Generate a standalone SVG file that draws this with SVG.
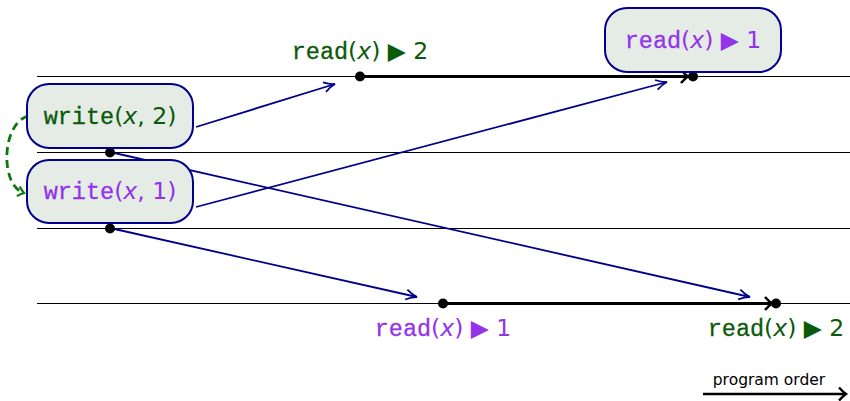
<svg xmlns="http://www.w3.org/2000/svg" width="850" height="401" viewBox="0 0 850 401">
<style>
.line{stroke:#000;stroke-width:1;fill:none}
.box{fill:#e5ebe5;stroke:#00008b;stroke-width:2}
.blue{stroke:#00008b;stroke-width:1.8;fill:none;marker-end:url(#ab)}
.thick{stroke:#000;stroke-width:3.2;fill:none;marker-end:url(#ak)}
.dot{fill:#000}
.t{font-size:23.5px;font-family:"DejaVu Sans",sans-serif}
.m{font-family:"Liberation Mono","DejaVu Sans Mono",monospace;stroke-width:0.3}
.i{font-style:italic}
.g{fill:#0a5a0a}
.g .m{stroke:#0a5a0a}
.p{fill:#9333ea}
.p .m{stroke:#9333ea}
</style>
<defs>
<marker id="ab" markerWidth="16" markerHeight="14" refX="13" refY="7" orient="auto" markerUnits="userSpaceOnUse">
<path d="M2,2 Q8,6 13,7 Q8,8 2,12" fill="none" stroke="#00008b" stroke-width="1.8"/>
</marker>
<marker id="ak" markerWidth="16" markerHeight="16" refX="10" refY="8" orient="auto" markerUnits="userSpaceOnUse">
<path d="M3,1.5 Q7,6 10,8 Q7,10 3,14.5" fill="none" stroke="#000" stroke-width="2.6"/>
</marker>
<marker id="ag" markerWidth="14" markerHeight="14" refX="9" refY="7" orient="auto" markerUnits="userSpaceOnUse">
<path d="M3,2 Q6,5 9,7 Q6,9 3,12" fill="none" stroke="#0a7a0a" stroke-width="2.2"/>
</marker>
<marker id="ap" markerWidth="16" markerHeight="16" refX="10" refY="8" orient="auto" markerUnits="userSpaceOnUse">
<path d="M3,1.5 Q7,6 10,8 Q7,10 3,14.5" fill="none" stroke="#000" stroke-width="2.4"/>
</marker>
</defs>
<g id="lines">
<line class="line" x1="37" y1="76.5" x2="850" y2="76.5"/>
<line class="line" x1="37" y1="152.5" x2="850" y2="152.5"/>
<line class="line" x1="37" y1="228.5" x2="850" y2="228.5"/>
<line class="line" x1="37" y1="303.5" x2="850" y2="303.5"/>
</g>
<g id="connectors">
<line class="thick" x1="360" y1="76.5" x2="688" y2="76.5"/>
<line class="thick" x1="443" y1="303.5" x2="772" y2="303.5"/>
<line class="blue" x1="196" y1="127" x2="335" y2="84"/>
<line class="blue" x1="196" y1="207" x2="667" y2="82"/>
<line class="blue" x1="110" y1="152" x2="750" y2="297"/>
<line class="blue" x1="110" y1="228" x2="417" y2="297"/>
<path d="M28,116 C1,124 0,186 24,193" fill="none" stroke="#0a7a0a" stroke-width="2.8" stroke-dasharray="8,5" marker-end="url(#ag)"/>
</g>
<g id="dots">
<circle class="dot" cx="110" cy="152.5" r="5"/>
<circle class="dot" cx="110" cy="228.5" r="5"/>
<circle class="dot" cx="360" cy="76.5" r="5"/>
<circle class="dot" cx="693" cy="76.5" r="5"/>
<circle class="dot" cx="443" cy="303.5" r="5"/>
<circle class="dot" cx="776" cy="303.5" r="5"/>
</g>
<g id="w2">
<rect class="box" x="27" y="84" width="166" height="64" rx="22"/>
<text class="t g" x="110" y="124" text-anchor="middle"><tspan class="m">write</tspan>(<tspan class="i">x</tspan>, 2)</text>
</g>
<g id="w1">
<rect class="box" x="27" y="160" width="166" height="63" rx="22"/>
<text class="t p" x="110" y="199" text-anchor="middle"><tspan class="m">write</tspan>(<tspan class="i">x</tspan>, 1)</text>
</g>
<g id="r1top">
<rect class="box" x="605" y="8" width="176" height="64" rx="22"/>
<text class="t p" x="693" y="48" text-anchor="middle"><tspan class="m">read</tspan>(<tspan class="i">x</tspan>) ▶ 1</text>
</g>
<g id="r2top">
<text class="t g" x="360" y="59" text-anchor="middle"><tspan class="m">read</tspan>(<tspan class="i">x</tspan>) ▶ 2</text>
</g>
<g id="r1bot">
<text class="t p" x="443" y="336" text-anchor="middle"><tspan class="m">read</tspan>(<tspan class="i">x</tspan>) ▶ 1</text>
</g>
<g id="r2bot">
<text class="t g" x="776" y="336" text-anchor="middle"><tspan class="m">read</tspan>(<tspan class="i">x</tspan>) ▶ 2</text>
</g>
<g id="legend">
<text x="769" y="385" text-anchor="middle" font-family="DejaVu Sans,sans-serif" font-size="15.5" fill="#000">program order</text>
<line x1="703" y1="394" x2="846" y2="394" stroke="#000" stroke-width="2.6" marker-end="url(#ap)"/>
</g>
</svg>
